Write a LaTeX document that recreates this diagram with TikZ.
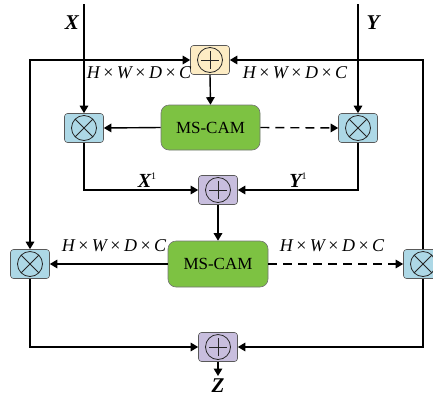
\documentclass[tikz,border=0pt]{standalone}
\usepackage{fontspec}
\setmainfont{Liberation Serif}
\usetikzlibrary{arrows.meta,calc}
\definecolor{opyellow}{RGB}{253,236,196}
\definecolor{opblue}{RGB}{173,216,230}
\definecolor{oppurple}{RGB}{200,190,222}
\definecolor{camgreen}{RGB}{125,194,66}
\newcommand{\hwdc}{{\itshape H\kern3.5pt\raisebox{0.5pt}{\upshape ×}\kern3.5pt W\kern3.5pt\raisebox{0.5pt}{\upshape ×}\kern3.5pt D\kern3.5pt\raisebox{0.5pt}{\upshape ×}\kern3.5pt C}}
\tikzset{
  opbox/.style={rectangle, rounded corners=3pt, draw=black!65, line width=0.6pt, minimum width=39pt, minimum height=29pt, inner sep=0pt},
  plusop/.style={opbox, path picture={
    \draw[line width=0.8pt, black!85] (path picture bounding box.center) circle (12.5pt);
    \draw[line width=0.8pt, black!85] ($(path picture bounding box.center)+(-9pt,0)$) -- ($(path picture bounding box.center)+(9pt,0)$);
    \draw[line width=0.8pt, black!85] ($(path picture bounding box.center)+(0,-9pt)$) -- ($(path picture bounding box.center)+(0,9pt)$);}},
  timesop/.style={opbox, path picture={
    \draw[line width=0.8pt, black!85] (path picture bounding box.center) circle (12.5pt);
    \draw[line width=0.8pt, black!85] ($(path picture bounding box.center)+(-8.8pt,-8.8pt)$) -- ($(path picture bounding box.center)+(8.8pt,8.8pt)$);
    \draw[line width=0.8pt, black!85] ($(path picture bounding box.center)+(-8.8pt,8.8pt)$) -- ($(path picture bounding box.center)+(8.8pt,-8.8pt)$);}},
  cambox/.style={rectangle, rounded corners=8pt, draw=black!55, line width=0.6pt, fill=camgreen, minimum width=99pt, minimum height=45pt, font=\fontsize{17}{19}\selectfont},
  conn/.style={line width=1.4pt, -{Triangle[length=7.5pt,width=8.5pt]}},
  dconn/.style={conn, dash pattern=on 9pt off 6pt},
  lbl/.style={font=\fontsize{18}{20}\selectfont, inner sep=0pt},
  blbl/.style={font=\fontsize{21}{23}\selectfont\bfseries\itshape, inner sep=0pt}
}
\begin{document}
\begin{tikzpicture}[x=1pt,y=-1pt]
\useasboundingbox (0,0) rectangle (433,397);
\clip (0,0) rectangle (433,397);
% nodes
\node[plusop, fill=opyellow] (addT) at (210,60) {};
\node[timesop, fill=opblue] (mulL1) at (84,128) {};
\node[timesop, fill=opblue] (mulR1) at (358,128) {};
\node[cambox] (camT) at (210.5,127.5) {MS-CAM};
\node[plusop, fill=oppurple] (addM) at (218,190) {};
\node[cambox, minimum width=100pt, minimum height=46pt] (camB) at (218,264) {MS-CAM};
\node[timesop, fill=opblue] (mulL2) at (30,264) {};
\node[timesop, fill=opblue] (mulR2) at (423,264) {};
\node[plusop, fill=oppurple] (addB) at (218,347) {};
\coordinate (xin) at (84,4);
\coordinate (yin) at (358,4);
\coordinate (zout) at (218,376);
% labels
\node[blbl] (lx) at (72,23) {X};
\node[blbl] (ly) at (373,23) {Y};
\node[blbl, anchor=north] (lz) at (218,379) {Z};
\node[lbl] (lt1) at (139,73) {\hwdc};
\node[lbl] (lt2) at (295,73) {\hwdc};
\node[lbl] (lb1) at (114,246) {\hwdc};
\node[lbl] (lb2) at (332,246) {\hwdc};
\node[lbl] (lx1) at (147,180) {{\fontsize{20}{22}\selectfont\bfseries\itshape X}\raisebox{8pt}{\fontsize{10}{11}\selectfont 1}};
\node[lbl] (ly1) at (298,180) {{\fontsize{20}{22}\selectfont\bfseries\itshape Y}\raisebox{8pt}{\fontsize{10}{11}\selectfont 1}};
% connectors
\draw[conn] (xin) -- (mulL1.north);
\draw[conn] (yin) -- (mulR1.north);
\draw[conn, {Triangle[length=7.5pt,width=8.5pt]}-{Triangle[length=7.5pt,width=8.5pt]}] (mulL2.north) |- (addT.west);
\draw[conn] (mulR2.north) |- (addT.east);
\draw[conn] (addT.south) -- (camT.north);
\draw[conn] (camT.west) -- (mulL1.east);
\draw[dconn] (camT.east) -- (mulR1.west);
\draw[conn] (mulL1.south) |- (addM.west);
\draw[conn] (mulR1.south) |- (addM.east);
\draw[conn] (addM.south) -- (camB.north);
\draw[conn] (camB.west) -- (mulL2.east);
\draw[dconn] (camB.east) -- (mulR2.west);
\draw[conn] (mulL2.south) |- (addB.west);
\draw[conn] (mulR2.south) |- (addB.east);
\draw[conn] (addB.south) -- (zout);
\end{tikzpicture}
\end{document}
